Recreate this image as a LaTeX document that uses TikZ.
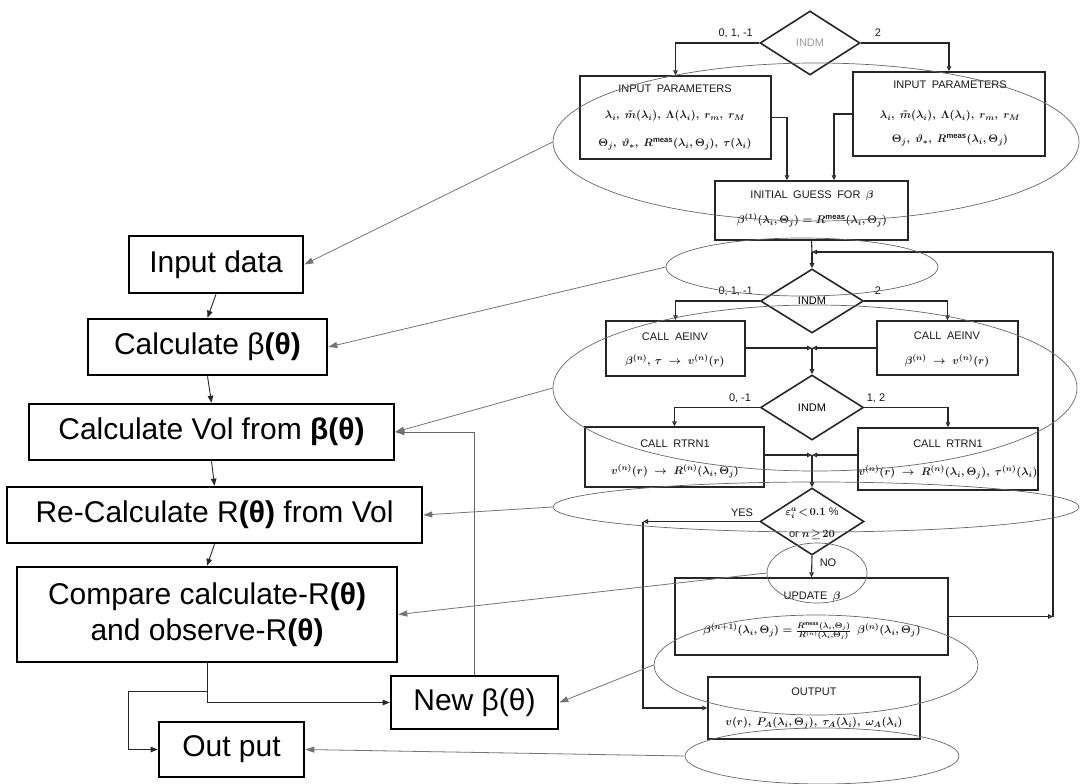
\documentclass[tikz,border=0pt]{standalone}
\usepackage{fontspec}
\setmainfont{Liberation Sans}
\usetikzlibrary{shapes.geometric,arrows.meta,calc}
\newcommand{\rcfont}{\fontsize{11}{13}\selectfont}
\begin{document}
\begin{tikzpicture}[x=1pt,y=-1pt,
  lbox/.style={draw=black, line width=2.6pt, inner sep=0pt, font=\fontsize{30}{36}\selectfont, align=center},
  rbox/.style={draw=black!85, line width=1.4pt, inner sep=0pt},
  dia/.style={diamond, draw=black!85, line width=1.6pt, inner sep=0pt, aspect=1.6, font=\rcfont, align=center},
  rt/.style={font=\rcfont\boldmath, text=black!90, inner sep=0pt},
  ell/.style={ellipse, draw=black!60, line width=0.7pt, inner sep=0pt},
  fl/.style={draw=black!85, line width=1.1pt, -{Triangle[open,length=5pt,width=4.5pt]}},
  ln/.style={draw=black!85, line width=1.1pt},
  blk/.style={draw=black!85, line width=0.9pt, -{Triangle[length=7pt,width=5.5pt]}},
  ln2/.style={draw=black!85, line width=0.9pt},
  garr/.style={draw=black!55, line width=0.8pt, -{Triangle[length=9pt,width=6pt]}},
  fb/.style={draw=black!60, line width=0.9pt, -{Triangle[length=9pt,width=6pt]}}
]
\useasboundingbox (0,0) rectangle (1082,784);

% ---------------- left flowchart ----------------
\node[lbox, minimum width=174pt, minimum height=57pt] (in) at (216,264.5) {Input data};
\node[lbox, minimum width=239pt, minimum height=56pt] (cb) at (207.5,347) {Calculate β\textbf{(θ)}};
\node[lbox, minimum width=365pt, minimum height=56pt] (cv) at (211.5,432) {Calculate Vol from \textbf{β(θ)}};
\node[lbox, minimum width=415pt, minimum height=56pt] (rc) at (214.5,515) {Re-Calculate R\textbf{(θ)} from Vol};
\node[lbox, minimum width=380pt, minimum height=95pt] (cmp) at (207,614.5) {Compare calculate-R\textbf{(θ)}\\and observe-R\textbf{(θ)}};
\node[lbox, minimum width=167pt, minimum height=53pt] (nb) at (474.5,702.5) {New β(θ)};
\node[lbox, minimum width=145pt, minimum height=55pt] (out) at (231.5,749.5) {Out put};

\draw[blk] (in.south) -- (cb.north);
\draw[blk] (cb.south) -- (cv.north);
\draw[blk] (cv.south) -- (rc.north);
\draw[blk] (rc.south) -- (cmp.north);
\draw[blk] (cmp.south) |- (nb.west);
\coordinate (br) at (207,691);
\coordinate (bl) at (128,691);
\draw[ln2] (br) -- (bl);
\draw[blk] (bl) |- (out.west);
\draw[fb] (nb.north) |- (cv.east);

% ---------------- right flowchart ----------------
\node[dia, minimum width=100pt, minimum height=64pt, text=black!40] (d1) at (810,43) {INDM};
\node[rt, anchor=east] (l1a) at (753,33) {0, 1, -1};
\node[rt] (l1b) at (878,33) {2};

\node[rbox, minimum width=191pt, minimum height=83pt] (ip1) at (675.5,117.5) {};
\node[rt] (ip1a) at (675,89) {INPUT\enspace PARAMETERS};
\node[rt] (ip1b) at (675,116) {$\lambda_i,\ \tilde m(\lambda_i),\ \Lambda(\lambda_i),\ r_m,\ r_M$};
\node[rt] (ip1c) at (675,144) {$\Theta_j,\ \vartheta_*,\ R^{\rm meas}(\lambda_i,\Theta_j),\ \tau(\lambda_i)$};

\node[rbox, minimum width=192pt, minimum height=84pt] (ip2) at (949,114) {};
\node[rt] (ip2a) at (950,85) {INPUT\enspace PARAMETERS};
\node[rt] (ip2b) at (950,116) {$\lambda_i,\ \tilde m(\lambda_i),\ \Lambda(\lambda_i),\ r_m,\ r_M$};
\node[rt] (ip2c) at (950,140) {$\Theta_j,\ \vartheta_*,\ R^{\rm meas}(\lambda_i,\Theta_j)$};

\node[rbox, minimum width=193pt, minimum height=59pt] (ig) at (811.5,210.5) {};
\node[rt] (iga) at (812,196) {INITIAL\enspace GUESS\enspace FOR\enspace $\beta$};
\node[rt] (igb) at (812,220) {$\beta^{(1)}(\lambda_i,\Theta_j)=R^{\rm meas}(\lambda_i,\Theta_j)$};

\draw[fl] (d1.west) -| (ip1.north);
\draw[fl] (d1.east) -| (ip2.north);
\draw[fl] (ip1.east) -| ([xshift=-24.5pt]ig.north);
\draw[fl] (ip2.west) -| ([xshift=22.5pt]ig.north);

\coordinate (fbj) at (812,252);
\coordinate (fbr) at (1053,252);
\coordinate (fbc) at (1053,616.5);

\node[dia, minimum width=103pt, minimum height=64pt] (d2) at (812,301) {INDM};
\node[rt, anchor=east] (l2a) at (753,291) {0, 1, -1};
\node[rt] (l2b) at (878,291) {2};

\draw[ln] (ig.south) -- (fbj);
\draw[fl] (fbj) -- (d2.north);

\node[rbox, minimum width=139pt, minimum height=55pt] (ai1) at (675.5,348.5) {};
\node[rt] (ai1a) at (675,337) {CALL\enspace AEINV};
\node[rt] (ai1b) at (675,361) {$\beta^{(n)},\,\tau\ \rightarrow\ v^{(n)}(r)$};
\node[rbox, minimum width=141pt, minimum height=54pt] (ai2) at (947.5,348) {};
\node[rt] (ai2a) at (947,336) {CALL\enspace AEINV};
\node[rt] (ai2b) at (947,361) {$\beta^{(n)}\ \rightarrow\ v^{(n)}(r)$};

\draw[fl] (d2.west) -| (ai1.north);
\draw[fl] (d2.east) -| (ai2.north);
\coordinate (m1) at (812,348);
\draw[fl] (ai1.east |- m1) -- (m1);
\draw[fl] (ai2.west |- m1) -- (m1);

\node[dia, minimum width=103pt, minimum height=65pt] (d3) at (812,407.5) {INDM};
\node[rt] (l3a) at (740,398) {0, -1};
\node[rt] (l3b) at (876,398) {1, 2};
\draw[fl] (m1) -- (d3.north);

\node[rbox, minimum width=179pt, minimum height=60pt] (rt1) at (674.5,457) {};
\node[rt] (rt1a) at (675,444) {CALL\enspace RTRN1};
\node[rt] (rt1b) at (675,471) {$v^{(n)}(r)\ \rightarrow\ R^{(n)}(\lambda_i,\Theta_j)$};
\node[rbox, minimum width=180pt, minimum height=62pt] (rt2) at (948,459) {};
\node[rt] (rt2a) at (948,444) {CALL\enspace RTRN1};
\node[rt] (rt2b) at (948,472) {$v^{(n)}(r)\ \rightarrow\ R^{(n)}(\lambda_i,\Theta_j),\ \tau^{(n)}(\lambda_i)$};

\draw[fl] (d3.west) -| (rt1.north);
\draw[fl] (d3.east) -| (rt2.north);
\coordinate (m2) at (812,455);
\draw[fl] (rt1.east |- m2) -- (m2);
\draw[fl] (rt2.west |- m2) -- (m2);

\node[dia, minimum width=104pt, minimum height=67pt] (d4) at (812,521.5) {};
\node[rt] (d4a) at (812,513) {$\varepsilon_i^{a}\!<\!0.1$ \%};
\node[rt] (d4b) at (812,535) {or $n\!\geq\!20$};
\draw[fl] (m2) -- (d4.north);
\node[rt] (yes) at (742,513) {YES};
\node[rt] (no) at (828,563) {NO};

\node[rbox, minimum width=273pt, minimum height=77pt] (upd) at (811.5,616.5) {};
\node[rt] (upda) at (812,597) {UPDATE\enspace $\beta$};
\node[rt] (updb) at (812,631) {$\beta^{(n+1)}(\lambda_i,\Theta_j)=\frac{R^{\rm meas}(\lambda_i,\Theta_j)}{R^{(n)}(\lambda_i,\Theta_j)}\ \ \beta^{(n)}(\lambda_i,\Theta_j)$};
\draw[fl] (d4.south) -- (upd.north);

\node[rbox, minimum width=212pt, minimum height=62pt] (out2) at (814,708) {};
\node[rt] (out2a) at (814,692) {OUTPUT};
\node[rt] (out2b) at (814,723) {$v(r),\ P_A(\lambda_i,\Theta_j),\ \tau_A(\lambda_i),\ \omega_A(\lambda_i)$};

\coordinate (yc) at (643,521.5);
\draw[fl] (d4.west) -- (yc);
\draw[fl] (yc) |- (out2.west);

\draw[fl] (upd.east) -- (fbc);
\draw[ln] (fbc) -- (fbr);
\draw[fl] (fbr) -- (fbj);

% ---------------- ellipses ----------------
\node[ell, minimum width=526pt, minimum height=158pt] (e1) at (816,142) {};
\node[ell, minimum width=272pt, minimum height=58pt] (e2) at (802,267) {};
\node[ell, minimum width=524pt, minimum height=166pt] (e3) at (815,388) {};
\node[ell, minimum width=526pt, minimum height=50pt] (e4) at (816,507) {};
\node[ell, minimum width=100pt, minimum height=60pt] (e5) at (817,573) {};
\node[ell, minimum width=324pt, minimum height=100pt] (e6) at (816,665) {};
\node[ell, minimum width=274pt, minimum height=56pt] (e7) at (822,756) {};

\draw[garr] (e1.west) -- (in.east);
\draw[garr] (e2.west) -- (cb.east);
\draw[garr] (e3.west) -- (cv.east);
\draw[garr] (e4.west) -- (rc.east);
\draw[garr] (e5.west) -- (cmp.east);
\draw[garr] (e6.west) -- (nb.east);
\draw[garr] (e7.west) -- (out.east);
\end{tikzpicture}
\end{document}
